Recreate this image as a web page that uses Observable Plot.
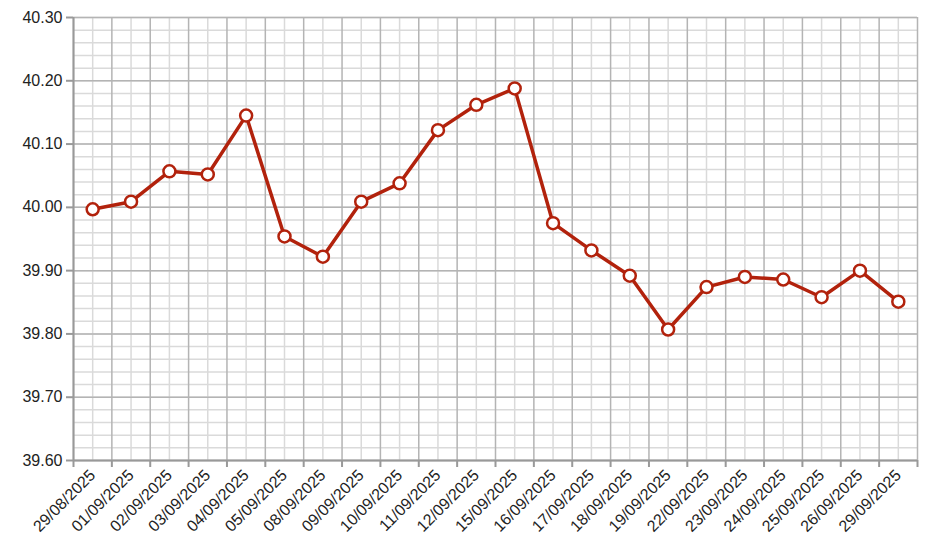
<!DOCTYPE html>
<html>
<head>
<meta charset="utf-8">
<script src="https://cdn.jsdelivr.net/npm/d3@7"></script>
<script src="https://cdn.jsdelivr.net/npm/@observablehq/plot@0.6"></script>
<style>
  html, body { margin: 0; padding: 0; background: #fff; }
</style>
</head>
<body>
<div id="chart"></div>
<script>
const dates = ["29/08/2025","01/09/2025","02/09/2025","03/09/2025","04/09/2025","05/09/2025","08/09/2025","09/09/2025","10/09/2025","11/09/2025","12/09/2025","15/09/2025","16/09/2025","17/09/2025","18/09/2025","19/09/2025","22/09/2025","23/09/2025","24/09/2025","25/09/2025","26/09/2025","29/09/2025"];
const values = [39.997,40.009,40.057,40.052,40.145,39.954,39.922,40.009,40.038,40.122,40.162,40.188,39.975,39.932,39.892,39.807,39.874,39.890,39.886,39.858,39.900,39.851];
const yTicks = [39.6,39.7,39.8,39.9,40.0,40.1,40.2,40.3];
const yMinor = d3.range(0, 36).map(k => 39.6 + k * 0.02);

const idx = dates.map((d, i) => i);
const edges = d3.range(0, dates.length + 1).map(i => i - 0.5);
const data = dates.map((d, i) => ({i, date: d, value: values[i]}));

const color = "#b2220c";

const chart = Plot.plot({
  width: 927,
  height: 552,
  marginLeft: 73,
  marginRight: 10,
  marginTop: 17,
  marginBottom: 92,
  style: {fontFamily: "'Liberation Sans', Arial, sans-serif", fontSize: "16px", background: "#fff"},
  x: {domain: [-0.5, dates.length - 0.5], axis: null},
  y: {domain: [39.6, 40.3], axis: null},
  marks: [
    Plot.ruleY(yMinor, {stroke: "#dadada", strokeWidth: 1.5}),
    Plot.ruleX(idx, {stroke: "#dadada", strokeWidth: 1.5}),
    Plot.ruleY(yTicks, {stroke: "#b4b4b4", strokeWidth: 1.5}),
    Plot.ruleX(edges, {stroke: "#b4b4b4", strokeWidth: 1.5}),
    Plot.axisY({ticks: yTicks, tickFormat: d => d.toFixed(2), tickSize: 7, tickPadding: 4, stroke: "#999", strokeWidth: 2, color: "#222", fontSize: 16, label: null}),
    Plot.axisX({ticks: edges, tickFormat: () => "", tickSize: 7, stroke: "#999", strokeWidth: 2, label: null}),
    Plot.axisX({ticks: idx, tickFormat: i => dates[i], tickSize: 0, tickPadding: 12, tickRotate: -45, color: "#222", fontSize: 16, label: null}),
    Plot.ruleX([-0.5], {stroke: "#999", strokeWidth: 2}),
    Plot.ruleY([39.6], {stroke: "#999", strokeWidth: 2}),
    Plot.line(data, {x: "i", y: "value", stroke: color, strokeWidth: 3.5}),
    Plot.dot(data, {x: "i", y: "value", r: 6, fill: "white", stroke: color, strokeWidth: 2.5})
  ]
});
document.getElementById("chart").appendChild(chart);
</script>
</body>
</html>
